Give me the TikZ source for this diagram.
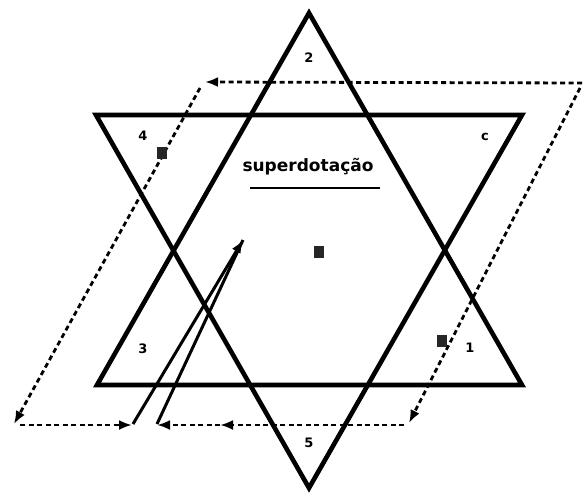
\documentclass[tikz,border=0pt]{standalone}
\usepackage{fontspec}
\setmainfont{DejaVu Sans}
\usetikzlibrary{arrows.meta}
\begin{document}
\begin{tikzpicture}[x=1pt,y=-1pt,
  tri/.style={line width=4.6pt,line join=miter},
  dsh/.style={line width=2.8pt,dash pattern=on 5pt off 3.5pt},
  tip/.style={-{Latex[length=13pt,width=10pt]}},
  lbl/.style={font=\bfseries\fontsize{13}{13}\selectfont,inner sep=0pt},
  sq/.style={fill=black!85,minimum width=10pt,minimum height=12pt,inner sep=0pt},
  solid/.style={line width=3pt}]
\useasboundingbox (0,0) rectangle (585,497);
% triangles
\coordinate (U1) at (309,13);
\coordinate (U2) at (97,385);
\coordinate (U3) at (522,385);
\coordinate (D1) at (96,115);
\coordinate (D2) at (522,115);
\coordinate (D3) at (309,488);
\draw[tri] (U1) -- (U2) -- (U3) -- cycle;
\draw[tri] (D1) -- (D2) -- (D3) -- cycle;
% dashed circuit
\coordinate (TR) at (582,83);
\coordinate (TRd) at (580,88);
\coordinate (TL) at (205,82);
\coordinate (TLd) at (200,88);
\coordinate (BL) at (14,424);
\coordinate (BLr) at (20,425);
\coordinate (BM) at (132,425);
\coordinate (BR) at (409,423);
\coordinate (BRl) at (404,425);
\coordinate (BM2) at (157,425);
\coordinate (MID) at (220,425);
\coordinate (AT) at (243,240);
\coordinate (A1) at (133,424);
\coordinate (A2) at (157,424);
\draw[dsh,tip] (TR) -- (TL);
\draw[dsh,tip] (TLd) -- (BL);
\draw[dsh,tip] (BLr) -- (BM);
\draw[dsh,tip] (TRd) -- (BR);
\draw[dsh,tip] (BRl) -- (MID);
\draw[dsh,tip] (MID) -- (BM2);
% solid arrows
\draw[solid,tip] (A1) -- (AT);
\draw[solid] (AT) -- (A2);
% squares
\node[sq] (s4) at (162,153) {};
\node[sq] (sc) at (319,252) {};
\node[sq] (s1) at (442,341) {};
% labels
\node[lbl] (l2) at (309,58) {2};
\node[lbl] (lc) at (485,137) {c};
\node[lbl] (l4) at (143,136) {4};
\node[lbl] (l3) at (143,349) {3};
\node[lbl] (l1) at (470,348) {1};
\node[lbl] (l5) at (309,443) {5};
% title
\node[inner sep=0pt,font=\bfseries\fontsize{17}{17}\selectfont] (t) at (308,167) {superdotação};
\coordinate (ul1) at (250,188);
\coordinate (ul2) at (380,188);
\draw[line width=2.6pt] (ul1) -- (ul2);
\end{tikzpicture}
\end{document}
